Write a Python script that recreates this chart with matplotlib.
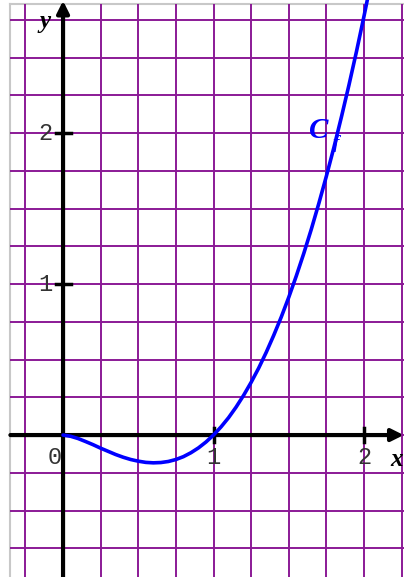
import numpy as np
from matplotlib import pyplot as plt

# points read along the curve C_f
xs = [0.0, 0.05, 0.1, 0.15, 0.2, 0.25, 0.3, 0.35, 0.4, 0.45, 0.5, 0.55, 0.6,
      0.65, 0.7, 0.75, 0.8, 0.85, 0.9, 0.95, 1.0, 1.05, 1.1, 1.15, 1.2, 1.25,
      1.3, 1.35, 1.4, 1.45, 1.5, 1.55, 1.6, 1.65, 1.7, 1.75, 1.8, 1.85, 1.9,
      1.95, 2.0, 2.05]
ys = [0.0, -0.008, -0.023, -0.043, -0.064, -0.087, -0.108, -0.129, -0.147,
      -0.162, -0.173, -0.181, -0.184, -0.182, -0.175, -0.162, -0.143, -0.117,
      -0.085, -0.046, 0.0, 0.054, 0.115, 0.185, 0.263, 0.349, 0.443, 0.547,
      0.660, 0.781, 0.912, 1.053, 1.203, 1.363, 1.534, 1.714, 1.904, 2.106,
      2.317, 2.539, 2.773, 3.017]

xticks = [1, 2]
yticks = [1, 2]

xmin, xmax = -0.419, 2.266
ymin, ymax = -0.940, 2.881
left, top = -0.35, 2.855
purple = '#8b1a96'

fig = plt.figure(figsize=(4.04, 5.77), dpi=100)
ax = fig.add_axes([0, 0, 1, 1])
ax.set_xlim(xmin, xmax)
ax.set_ylim(ymin, ymax)
ax.axis('off')

# frame and grid
ax.plot([left, left], [ymin, top], color='#c8c8c8', lw=1.5, zorder=1)
ax.plot([left, xmax], [top, top], color='#c8c8c8', lw=1.5, zorder=1)
gx = np.arange(-0.25, 2.3, 0.25)
gy = np.arange(-0.75, 2.8, 0.25)
ax.vlines(gx, ymin, top, color=purple, lw=1.4, zorder=2)
ax.hlines(gy, left, xmax, color=purple, lw=1.4, zorder=2)

# axes with arrows
arrow = dict(arrowstyle='-|>', color='black', lw=3, mutation_scale=18,
             shrinkA=0, shrinkB=0)
ax.annotate('', xy=(xmax - 0.002, 0), xytext=(left, 0), arrowprops=arrow,
            annotation_clip=False, zorder=3)
ax.annotate('', xy=(0, ymax - 0.005), xytext=(0, ymin), arrowprops=arrow,
            annotation_clip=False, zorder=3)
for t in xticks:
    ax.plot([t, t], [-0.047, 0.047], color='black', lw=2.5, zorder=3)
    ax.text(t, -0.15, str(t), ha='center', va='center', fontsize=17,
            family='Liberation Mono', color='#333333')
for t in yticks:
    ax.plot([-0.05, 0.05], [t, t], color='black', lw=2.5, zorder=3)
    ax.text(-0.12, t, str(t), ha='center', va='center', fontsize=17,
            family='Liberation Mono', color='#333333')
ax.text(-0.055, -0.15, '0', ha='center', va='center', fontsize=17,
        family='Liberation Mono', color='#333333')

ax.text(-0.12, 2.74, 'y', ha='center', va='center', fontsize=18,
        family='Liberation Serif', style='italic', weight='bold')
ax.text(2.215, -0.165, 'x', ha='center', va='center', fontsize=18,
        family='Liberation Serif', style='italic', weight='bold')

# the curve
ax.plot(xs, ys, color='#0000ff', lw=2.6, zorder=4, solid_capstyle='round')
ax.text(1.70, 2.02, 'C', ha='center', va='center', fontsize=21, color='#0000ff',
        family='Liberation Serif', style='italic', weight='bold', zorder=5)
ax.text(1.815, 1.93, 'f', ha='center', va='center', fontsize=14, color='#0000ff',
        family='Liberation Serif', style='italic', weight='bold', zorder=5)

fig.savefig('out.png', dpi=100)
